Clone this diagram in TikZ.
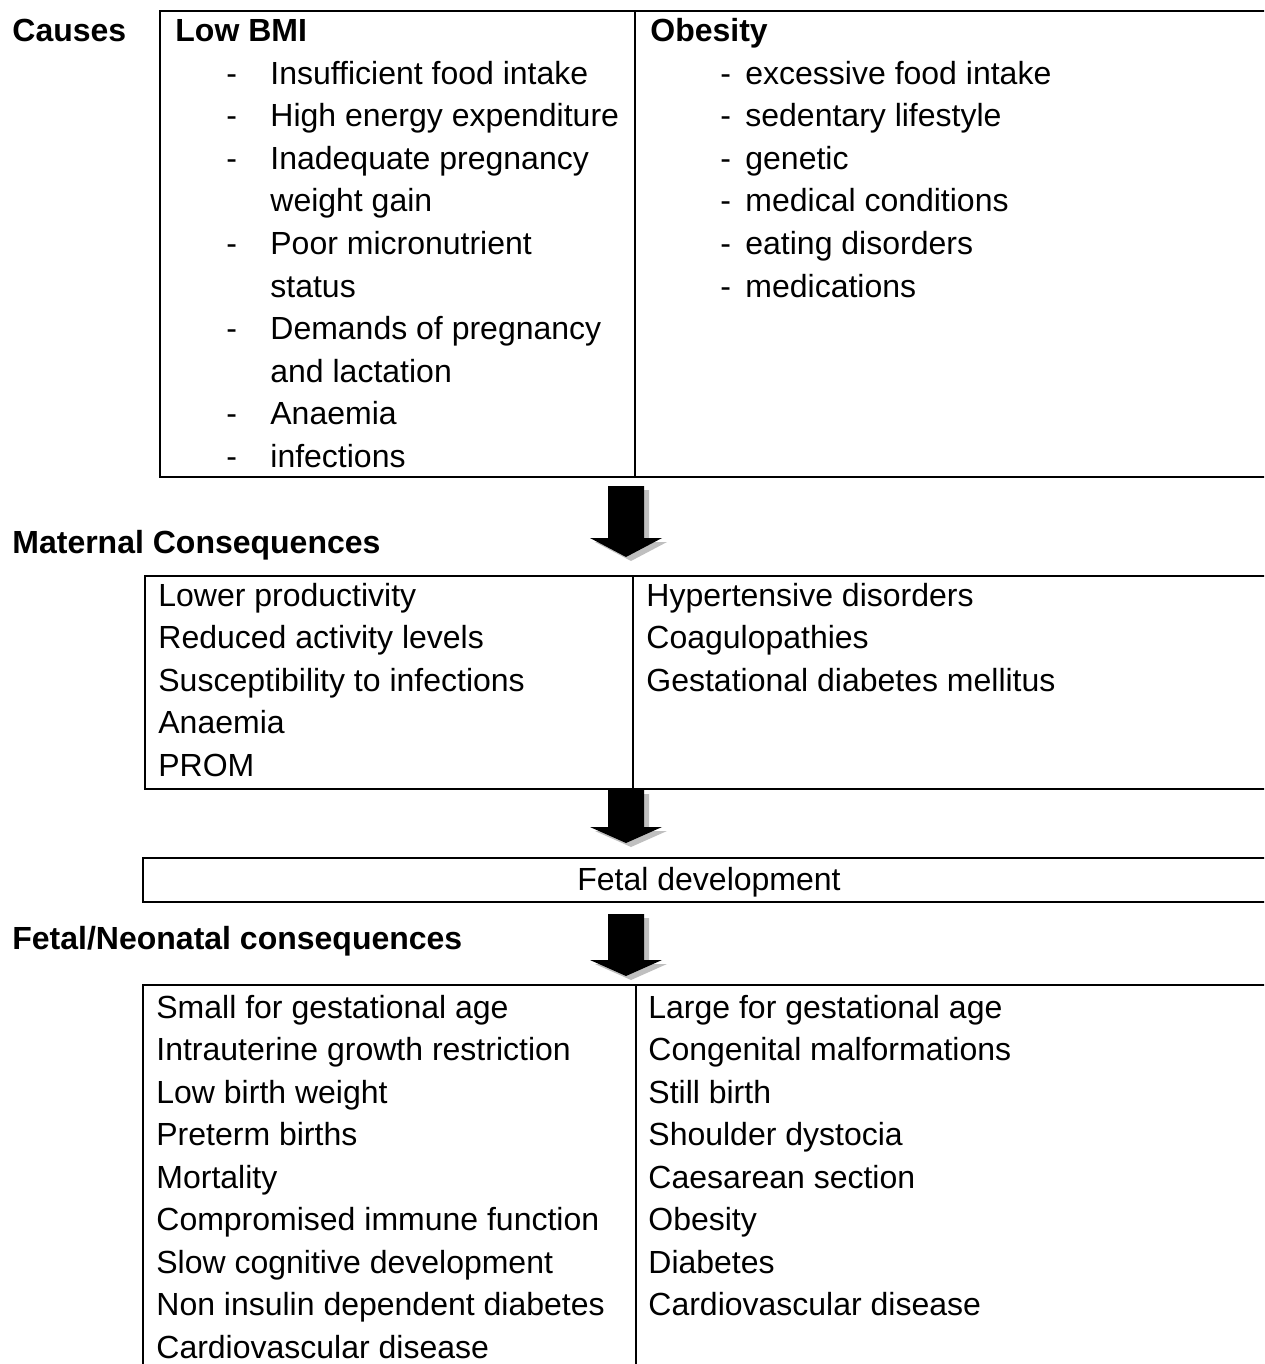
\documentclass[tikz,border=0pt]{standalone}
\usepackage{fontspec}
\setmainfont{Liberation Sans}
\usetikzlibrary{positioning}

\newcommand{\blockarrow}[4]{% centre x, top, head start, tip
  \fill[arrowshadow] (#1-18+5,#2+4) -- (#1+18+5,#2+4) -- (#1+18+5,#3+4) -- (#1+36+5,#3+4)
    -- (#1+5,#4+4) -- (#1-36+5,#3+4) -- (#1-18+5,#3+4) -- cycle;
  \fill[arrowbody] (#1-18,#2) -- (#1+18,#2) -- (#1+18,#3) -- (#1+36,#3)
    -- (#1,#4) -- (#1-36,#3) -- (#1-18,#3) -- cycle;
}

\begin{document}
\begin{tikzpicture}[
    x=0.5pt, y=-0.5pt,
    every node/.style={font=\fontsize{16pt}{21.25pt}\selectfont},
    item/.style={anchor=base west, inner sep=0pt},
    head/.style={item, font=\fontsize{16pt}{21.25pt}\selectfont\bfseries},
    frame/.style={draw, line width=1pt},
    arrowbody/.style={fill=black},
    arrowshadow/.style={fill=black!25}
]
\useasboundingbox (0,0) rectangle (1264,1364);
\clip (0,0) rectangle (1264,1364);

% causes
\draw[frame] (160,11) rectangle (1300,477);
\draw[frame] (635,11) -- (635,477);
\node[head] (causes) at (12,42) {Causes};
\node[head] (lowbmi) at (175,42) {Low BMI};
\node[head] (obesity) at (650,42) {Obesity};
\foreach \d/\txt [count=\i] in {1/Insufficient food intake, 1/High energy expenditure,
    1/Inadequate pregnancy, 0/weight gain, 1/Poor micronutrient, 0/status,
    1/Demands of pregnancy, 0/and lactation, 1/Anaemia, 1/infections}{
  \node[item] (low\i) at (270,42+42.5*\i) {\txt};
  \ifnum\d=1 \node[item] (lowdash\i) at (226,42+42.5*\i) {-};\fi
}
\foreach \txt [count=\i] in {excessive food intake, sedentary lifestyle, genetic,
    medical conditions, eating disorders, medications}{
  \node[item] (ob\i) at (745,42+42.5*\i) {\txt};
  \node[item] (obdash\i) at (720,42+42.5*\i) {-};
}

\blockarrow{626}{486}{538}{557}

% maternal consequences
\node[head] (maternal) at (12,553) {Maternal Consequences};
\draw[frame] (145,576) rectangle (1300,789);
\draw[frame] (633,576) -- (633,789);
\foreach \txt [count=\i from 0] in {Lower productivity, Reduced activity levels,
    Susceptibility to infections, Anaemia, PROM}
  \node[item] (mlow\i) at (158,606+42.5*\i) {\txt};
\foreach \txt [count=\i from 0] in {Hypertensive disorders, Coagulopathies,
    Gestational diabetes mellitus}
  \node[item] (mob\i) at (646,606+42.5*\i) {\txt};

\blockarrow{626}{790}{827}{843}

% fetal development
\draw[frame] (143,858) rectangle (1275,902);
\node[anchor=base, inner sep=0pt] (fetal) at (709,890) {Fetal development};

\blockarrow{626}{914}{960}{976}

% fetal/neonatal consequences
\node[head] (neonatal) at (12,949) {Fetal/Neonatal consequences};
\draw[frame] (143,985) rectangle (1300,1380);
\draw[frame] (636,985) -- (636,1380);
\foreach \txt [count=\i from 0] in {Small for gestational age,
    Intrauterine growth restriction, Low birth weight, Preterm births, Mortality,
    Compromised immune function, Slow cognitive development,
    Non insulin dependent diabetes, Cardiovascular disease}
  \node[item] (nlow\i) at (156,1018+42.5*\i) {\txt};
\foreach \txt [count=\i from 0] in {Large for gestational age,
    Congenital malformations, Still birth, Shoulder dystocia, Caesarean section,
    Obesity, Diabetes, Cardiovascular disease}
  \node[item] (nob\i) at (648,1018+42.5*\i) {\txt};
\end{tikzpicture}
\end{document}
